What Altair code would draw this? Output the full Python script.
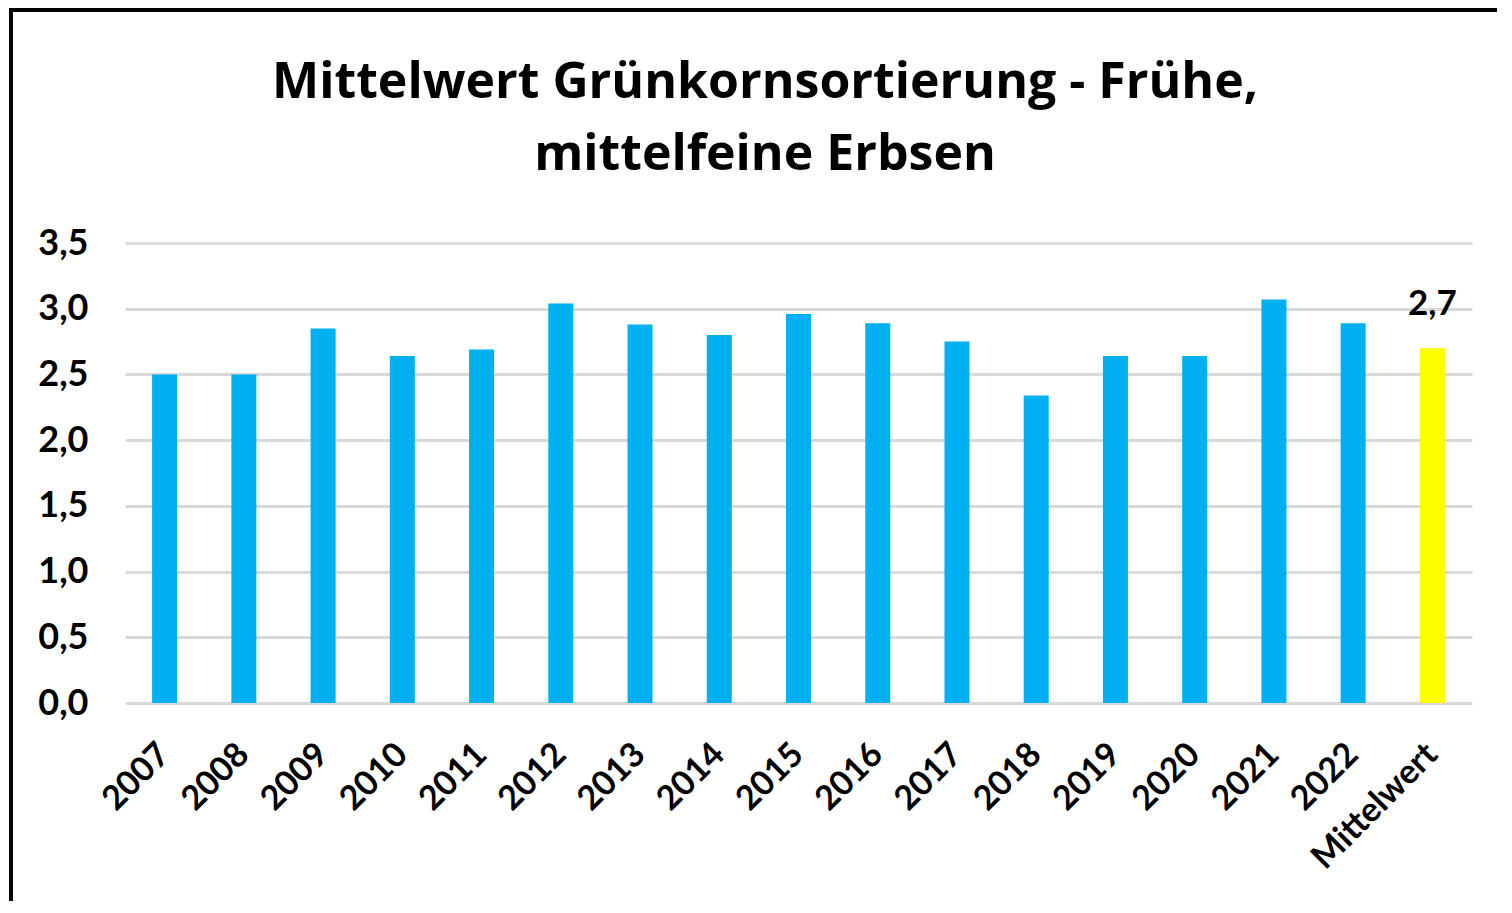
import altair as alt
import pandas as pd

categories = ["2007", "2008", "2009", "2010", "2011", "2012", "2013", "2014", "2015",
              "2016", "2017", "2018", "2019", "2020", "2021", "2022", "Mittelwert"]
values = [2.50, 2.50, 2.85, 2.64, 2.69, 3.04, 2.88, 2.80, 2.96,
          2.89, 2.75, 2.34, 2.64, 2.64, 3.07, 2.89, 2.70]
kinds = ["Jahr"] * 16 + ["Mittelwert"]
label_texts = [""] * 16 + ["2,7"]
title_lines = ["Mittelwert Grünkornsortierung - Frühe,", "mittelfeine Erbsen"]

df = pd.DataFrame({"cat": categories, "val": values, "kind": kinds, "lbl": label_texts})

W, H = 1347, 460
FONT = "Lato"
TFONT = "Open Sans"

x_enc = alt.X("cat:N", sort=categories, title=None,
              scale=alt.Scale(paddingInner=0.0, paddingOuter=0.0),
              axis=alt.Axis(labelAngle=-45, labelAlign="right", labelBaseline="middle",
                            labelFont=FONT, labelFontWeight="bold", labelFontSize=34,
                            labelColor="black", labelPadding=46, ticks=False, domain=False,
                            grid=False))
y_enc = alt.Y("val:Q", title=None,
              scale=alt.Scale(domain=[0, 3.5], nice=False),
              axis=alt.Axis(values=[0, 0.5, 1, 1.5, 2, 2.5, 3, 3.5],
                            labelExpr="replace(format(datum.value, '.1f'), '.', ',')",
                            labelFont=FONT, labelFontWeight="bold", labelFontSize=36,
                            labelColor="black", labelPadding=37, ticks=False, domain=False,
                            grid=True, gridColor="#D9D9D9", gridWidth=3))

frame = alt.Chart(df.head(1)).mark_rect(fillOpacity=0, stroke="black", strokeWidth=4).encode(
    x=alt.value(-114), x2=alt.value(W + 60), y=alt.value(-233), y2=alt.value(H + 400)
)

title = alt.Chart(df.head(1)).mark_text(
    font=TFONT, fontSize=50, fontWeight="bold", color="black", align="center",
    baseline="alphabetic", lineHeight=72
).encode(x=alt.value(640), y=alt.value(-145), text=alt.value(title_lines))

bars = alt.Chart(df).mark_bar(size=25).encode(
    x=x_enc, y=y_enc,
    color=alt.Color("kind:N", scale=alt.Scale(domain=["Jahr", "Mittelwert"],
                                              range=["#00B0F0", "#FFFF00"]), legend=None)
)

labels = alt.Chart(df).transform_filter("datum.lbl != ''").mark_text(
    font=FONT, fontWeight="bold", fontSize=35, color="black", baseline="alphabetic", dy=-33
).encode(x=alt.X("cat:N", sort=categories), y="val:Q", text="lbl:N")

chart = alt.layer(frame, title, bars, labels).properties(
    width=W, height=H, background="white",
    autosize=alt.AutoSizeParams(type="none"),
    padding={"left": 117, "top": 235, "right": 25, "bottom": 198},
).configure_view(stroke=None)

chart.save("out.html", embed_options={"renderer": "svg", "actions": False})
